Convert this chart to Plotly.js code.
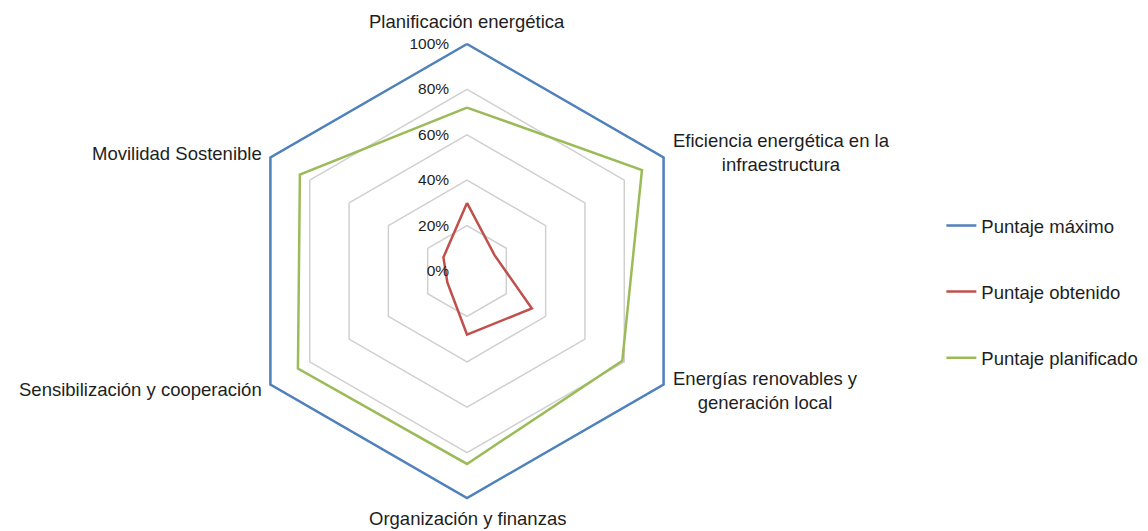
<!DOCTYPE html>
<html><head><meta charset="utf-8">
<script src="https://cdn.plot.ly/plotly-3.0.1.min.js"></script>
<style>html,body{margin:0;padding:0;background:#fff}</style>
</head><body>
<div id="chart" style="width:1148px;height:531px"></div>
<script>
const categories = ["Planificación energética", "Eficiencia energética en la<br>infraestructura", "Energías renovables y<br>generación local", "Organización y finanzas", "Sensibilización y cooperación", "Movilidad Sostenible"];
const maximo = [100, 100, 100, 100, 100, 100];
const obtenido = [30, 14, 33, 28, 10, 12];
const planificado = [72, 89, 79, 85, 86, 85];
const radialTicks = [0, 20, 40, 60, 80, 100];
const radialLabels = ["0%", "20%", "40%", "60%", "80%", "100%"];

const W = 1148, H = 531;
const cx = 467, cy = 271, R = 227;
const rMax = 101.2;           // small headroom so the 100% line is not clipped
const Rd = R * rMax / 100;

function close(a){ return a.concat([a[0]]); }
const theta = close(categories);
const series = [
  {name:"Puntaje máximo", r:maximo, color:"#4F81BD"},
  {name:"Puntaje obtenido", r:obtenido, color:"#C0504D"},
  {name:"Puntaje planificado", r:planificado, color:"#9BBB59"}
];
const data = series.map((s,i)=>({
  type:"scatterpolar", mode:"lines", name:s.name, legendgroup:"g"+i,
  r:close(s.r), theta:theta, cliponaxis:false,
  line:{color:s.color, width:2.5}
}));

// category labels placed just outside each hexagon vertex, centred text
const annotations = categories.map((c,i)=>{
  const ang = Math.PI/2 - i*2*Math.PI/categories.length;
  const vx = cx + R*Math.cos(ang), vy = cy - R*Math.sin(ang);
  let x = vx, y = vy, xa = "center";
  if (Math.abs(Math.cos(ang)) < 0.01) { y = vy + (Math.sin(ang) > 0 ? -22 : 20); }
  else if (Math.cos(ang) > 0) { x = vx + 7; xa = "left"; y = vy + (Math.sin(ang) > 0 ? -5 : 6); }
  else { x = vx - 6; xa = "right"; y = vy + (Math.sin(ang) > 0 ? -4 : 5); }
  return {text:c, xref:"paper", yref:"paper", x:x/W, y:1-y/H, xanchor:xa, yanchor:"middle",
    align:"center", showarrow:false, font:{size:18.5, color:"#1e1e1e"}};
});

const layout = {
  width:W, height:H,
  margin:{l:0, r:0, t:0, b:0},
  paper_bgcolor:"#fff",
  font:{family:"Liberation Sans, Arial, sans-serif", size:18.5, color:"#1e1e1e"},
  showlegend:true,
  legend:{x:0.820, xanchor:"left", y:1-292/H, yanchor:"middle", tracegroupgap:39, font:{size:18.5}},
  annotations:annotations,
  polar:{
    domain:{x:[(cx-Rd)/W, (cx+Rd)/W], y:[1-(cy+Rd)/H, 1-(cy-Rd)/H]},
    gridshape:"linear",
    bgcolor:"#fff",
    radialaxis:{range:[0,rMax], tickvals:radialTicks, ticktext:radialLabels, angle:90, tickangle:90,
      side:"counterclockwise", showline:false, ticks:"outside", ticklen:12, tickcolor:"rgba(0,0,0,0)",
      gridcolor:"#d0d0d0", gridwidth:1.5,
      tickfont:{size:15.5, color:"#1e1e1e"}},
    angularaxis:{direction:"clockwise", rotation:90, showgrid:false, showline:false, ticks:"",
      showticklabels:false}
  }
};
Plotly.newPlot("chart", data, layout, {displayModeBar:false, staticPlot:true});
</script>
</body></html>
